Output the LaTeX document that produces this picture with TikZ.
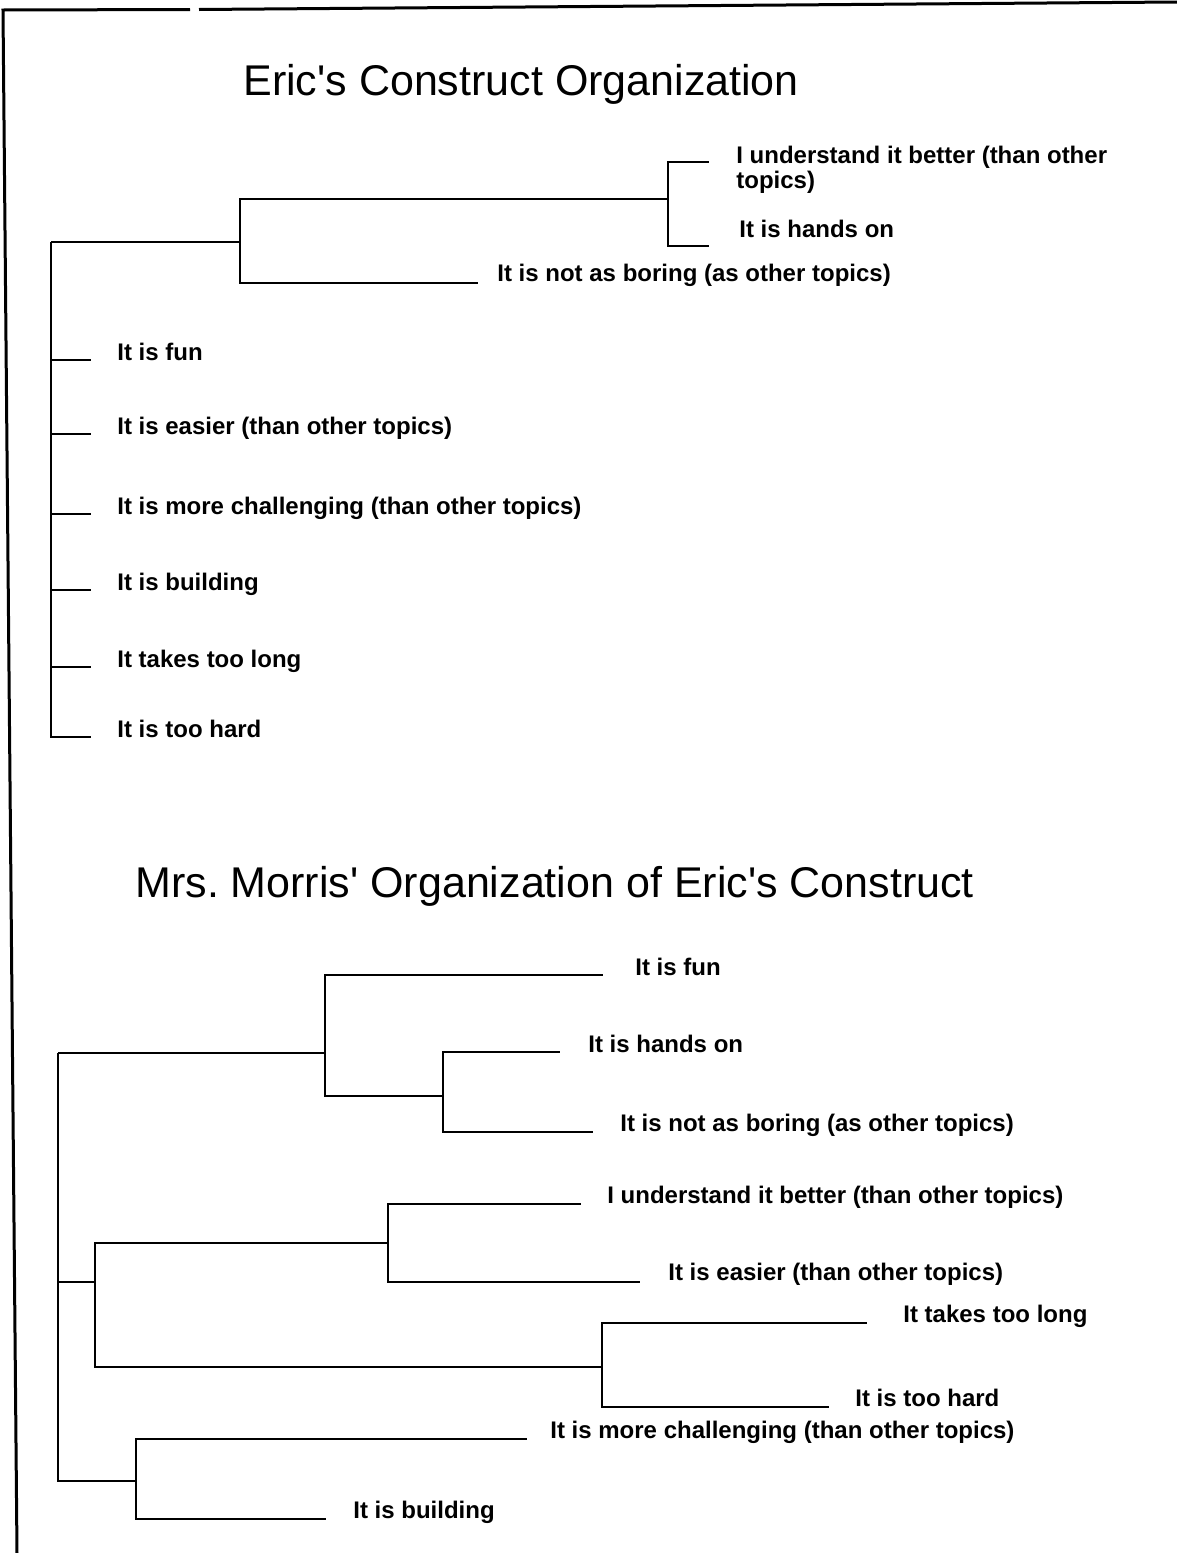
\documentclass[tikz,border=0pt]{standalone}
\usepackage{fontspec}
\setmainfont{Liberation Sans}
\frenchspacing
\begin{document}
\begin{tikzpicture}[x=0.5pt,y=-0.5pt,
  branch/.style={line width=1.2pt},
  frameline/.style={line width=1.5pt},
  leaflabel/.style={anchor=base west, inner sep=0pt,
    font=\fontsize{12}{12.5}\selectfont\bfseries},
  heading/.style={anchor=base west, inner sep=0pt,
    font=\fontsize{21.5}{24}\selectfont}]
\useasboundingbox (0,0) rectangle (1177,1553);

% page frame (top and left edges)
\coordinate (f0) at (3,10);
\coordinate (f1) at (190,9.5);
\coordinate (f2) at (199,9.5);
\coordinate (f3) at (1177,2);
\coordinate (f4) at (17,1553);
\draw[frameline] (f1) -- (f0) -- (f4);
\draw[frameline] (f2) -- (f3);

% ---------------- first dendrogram ----------------
\node[heading] (title1) at (243,95) {Eric\textquotesingle s Construct Organization};

\node[leaflabel] (u1) at (736,163) {\begin{tabular}[t]{@{}l@{}}I understand it better (than other\\topics)\end{tabular}};
\node[leaflabel] (u2) at (739,237) {It is hands on};
\node[leaflabel] (u3) at (497,281) {It is not as boring (as other topics)};
\node[leaflabel] (u4) at (117,360) {It is fun};
\node[leaflabel] (u5) at (117,434) {It is easier (than other topics)};
\node[leaflabel] (u6) at (117,514) {It is more challenging (than other topics)};
\node[leaflabel] (u7) at (117,590) {It is building};
\node[leaflabel] (u8) at (117,667) {It takes too long};
\node[leaflabel] (u9) at (117,737) {It is too hard};

\coordinate (ur) at (51,242);
\coordinate (ua) at (240,242);
\coordinate (ub) at (668,199);
\coordinate (e1) at (709,162);
\coordinate (e2) at (709,246);
\coordinate (e3) at (478,283);
\coordinate (e4) at (91,360);
\coordinate (e5) at (91,434);
\coordinate (e6) at (91,514);
\coordinate (e7) at (91,590);
\coordinate (e8) at (91,667);
\coordinate (e9) at (91,737);

\draw[branch] (ur) -- (ua);
\draw[branch] (ua) |- (ub);
\draw[branch] (ua) |- (e3);
\draw[branch] (ub) |- (e1);
\draw[branch] (ub) |- (e2);
\draw[branch] (ur) |- (e9);
\foreach \e in {e4,e5,e6,e7,e8}
  \draw[branch] (ur |- \e) -- (\e);

% ---------------- second dendrogram ----------------
\node[heading] (title2) at (135,897) {Mrs. Morris\textquotesingle\ Organization of Eric\textquotesingle s Construct};

\node[leaflabel] (l1) at (635,975) {It is fun};
\node[leaflabel] (l2) at (588,1052) {It is hands on};
\node[leaflabel] (l3) at (620,1131) {It is not as boring (as other topics)};
\node[leaflabel] (l4) at (607,1203) {I understand it better (than other topics)};
\node[leaflabel] (l5) at (668,1280) {It is easier (than other topics)};
\node[leaflabel] (l6) at (903,1322) {It takes too long};
\node[leaflabel] (l7) at (855,1406) {It is too hard};
\node[leaflabel] (l8) at (550,1438) {It is more challenging (than other topics)};
\node[leaflabel] (l9) at (353,1518) {It is building};

\coordinate (lr) at (58,1053);
\coordinate (la) at (325,1053);
\coordinate (lb) at (443,1096);
\coordinate (lc) at (95,1282);
\coordinate (ld) at (388,1243);
\coordinate (le) at (602,1367);
\coordinate (lf) at (136,1481);
\coordinate (g1) at (603,975);
\coordinate (g2) at (560,1052);
\coordinate (g3) at (593,1132);
\coordinate (g4) at (581,1204);
\coordinate (g5) at (640,1282);
\coordinate (g6) at (867,1323);
\coordinate (g7) at (829,1407);
\coordinate (g8) at (527,1439);
\coordinate (g9) at (326,1519);

\draw[branch] (lr) -- (la);
\draw[branch] (la) |- (g1);
\draw[branch] (la) |- (lb);
\draw[branch] (lb) |- (g2);
\draw[branch] (lb) |- (g3);
\draw[branch] (lr) |- (lf);
\draw[branch] (lr |- lc) -- (lc);
\draw[branch] (lc) |- (ld);
\draw[branch] (lc) |- (le);
\draw[branch] (ld) |- (g4);
\draw[branch] (ld) |- (g5);
\draw[branch] (le) |- (g6);
\draw[branch] (le) |- (g7);
\draw[branch] (lf) |- (g8);
\draw[branch] (lf) |- (g9);
\end{tikzpicture}
\end{document}
